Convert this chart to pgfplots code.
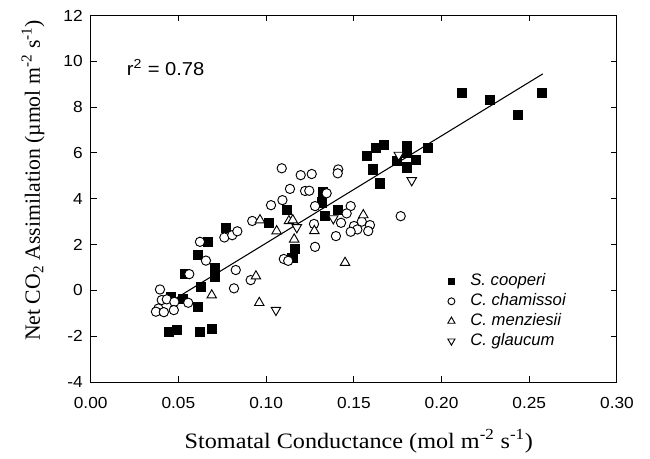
\documentclass[border=0pt]{standalone}
\usepackage{fontspec}
\setmainfont{Liberation Serif}
\newfontfamily\arial{Liberation Sans}
\usepackage{pgfplots}
\pgfplotsset{compat=1.18}
\pgfplotstableread{
x y
0.0448 -1.81
0.0490 -1.73
0.0623 -1.81
0.0690 -1.69
0.0458 -0.28
0.0528 -0.39
0.0613 -0.74
0.0627 0.16
0.0538 0.71
0.0709 0.96
0.0709 0.59
0.0613 1.54
0.0670 2.12
0.0771 2.73
0.1016 2.95
0.1117 3.51
0.1165 1.83
0.1150 1.42
0.1322 4.31
0.1317 3.84
0.1411 3.51
0.1336 3.24
0.1577 5.86
0.1611 5.28
0.1649 4.67
0.1626 6.20
0.1672 6.34
0.1801 6.30
0.1805 6.02
0.1745 5.65
0.1856 5.70
0.1801 5.37
0.1924 6.20
0.2115 8.60
0.2276 8.31
0.2437 7.66
0.2574 8.60
}\cooperi
\pgfplotstableread{
x y
0.0395 0.04
0.0405 -0.42
0.0434 -0.39
0.0477 -0.50
0.0556 -0.54
0.0386 -0.79
0.0372 -0.93
0.0417 -0.95
0.0474 -0.86
0.0562 0.71
0.0657 1.30
0.0827 0.89
0.0912 0.45
0.0817 0.09
0.0623 2.12
0.0762 2.31
0.0807 2.41
0.0836 2.58
0.0921 3.03
0.1028 3.72
0.1093 3.94
0.1136 4.43
0.1089 5.33
0.1101 1.37
0.1126 1.29
0.1197 5.03
0.1260 5.08
0.1411 5.28
0.1408 5.11
0.1222 4.34
0.1246 4.35
0.1345 4.24
0.1279 3.68
0.1482 3.68
0.1459 3.36
0.1427 2.95
0.1545 3.00
0.1501 2.81
0.1520 2.66
0.1592 2.85
0.1582 2.59
0.1482 2.56
0.1273 2.90
0.1398 2.37
0.1279 1.90
0.1767 3.24
}\chamissoi
\pgfplotstableread{
x y
0.0690 -0.21
0.0942 0.62
0.0961 -0.54
0.0965 3.07
0.1130 3.03
0.1152 3.07
0.1160 2.23
0.1060 2.59
0.1554 3.29
0.1275 2.60
0.1450 1.21
}\menziesii
\pgfplotstableread{
x y
0.1056 -0.86
0.1383 3.14
0.1175 2.75
0.1756 5.91
0.1830 4.80
}\glaucum
\begin{document}
\begin{tikzpicture}
\begin{axis}[
  scale only axis, width=394.7pt, height=274.9pt,
  xmin=0, xmax=0.30, ymin=-4, ymax=12,
  xtick={0,0.05,0.1,0.15,0.2,0.25,0.3},
  ytick={-4,-2,0,2,4,6,8,10,12},
  scaled x ticks=false,
  tick align=inside, major tick length=4.5pt,
  axis line style={line width=0.75pt},
  every tick/.style={line width=0.75pt, black},
  /pgf/number format/assume math mode=true,
  tick label style={font=\arial\fontsize{12}{14}\selectfont, xscale=1.08},
  y tick label style={xshift=-2pt},
  x tick label style={/pgf/number format/.cd, fixed, fixed zerofill, precision=2, assume math mode=true, /tikz/.cd, yshift=-8pt},
  xlabel={Stomatal Conductance (mol m\textsuperscript{-2} s\textsuperscript{-1})},
  ylabel={Net CO\textsubscript{2} Assimilation (µmol m\textsuperscript{-2} s\textsuperscript{-1})},
  every axis x label/.style={at={(axis description cs:0.5095,0)}, anchor=base, yshift=-49.5pt,
    font=\fontsize{16.5}{19}\selectfont, xscale=1.10},
  every axis y label/.style={at={(axis description cs:-0.0963,0.550)}, rotate=90, anchor=base,
    font=\fontsize{16.3}{19}\selectfont},
  legend style={at={(axis description cs:0.6781,0.2988)}, anchor=north west, draw=none, fill=none,
    inner sep=0pt, font=\arial\itshape\fontsize{12.5}{14}\selectfont,
    nodes={inner sep=1pt, text height=8.5pt, text depth=2.5pt},
    row sep=1.9pt,
    /tikz/every odd column/.append style={column sep=10.5pt}},
  legend cell align=left,
]
\addplot[black, line width=0.8pt, forget plot] coordinates {(0.046,-0.467) (0.2577,9.45)};
\addplot[only marks, mark=square*, mark size=3.4pt, mark options={fill=black, draw=black, line width=0.6pt},
  legend image post style={mark size=2.5pt}] table[x=x,y=y] {\cooperi};
\addlegendentry{S. cooperi}
\addplot[only marks, mark=*, mark size=3.5pt, mark options={fill=white, draw=black, line width=0.7pt},
  legend image post style={mark size=2.6pt}] table[x=x,y=y] {\chamissoi};
\addlegendentry{C. chamissoi}
\addplot[only marks, mark=triangle*, mark size=4.1pt, mark options={fill=white, draw=black, line width=0.7pt},
  legend image post style={mark size=3.1pt}] table[x=x,y=y] {\menziesii};
\addlegendentry{C. menziesii}
\addplot[only marks, mark=triangle*, mark size=4.1pt, mark options={fill=white, draw=black, line width=0.7pt, rotate=180},
  legend image post style={mark size=3.1pt}] table[x=x,y=y] {\glaucum};
\addlegendentry{C. glaucum}
\node[anchor=base west, font=\arial\fontsize{14}{16}\selectfont, inner sep=0pt, xscale=1.08] at (axis cs:0.0205,9.40) {r\textsuperscript{2} = 0.78};
\end{axis}
\pgfresetboundingbox
\path (-68pt,-57pt) rectangle (419.45pt,286.5pt);
\end{tikzpicture}
\end{document}
